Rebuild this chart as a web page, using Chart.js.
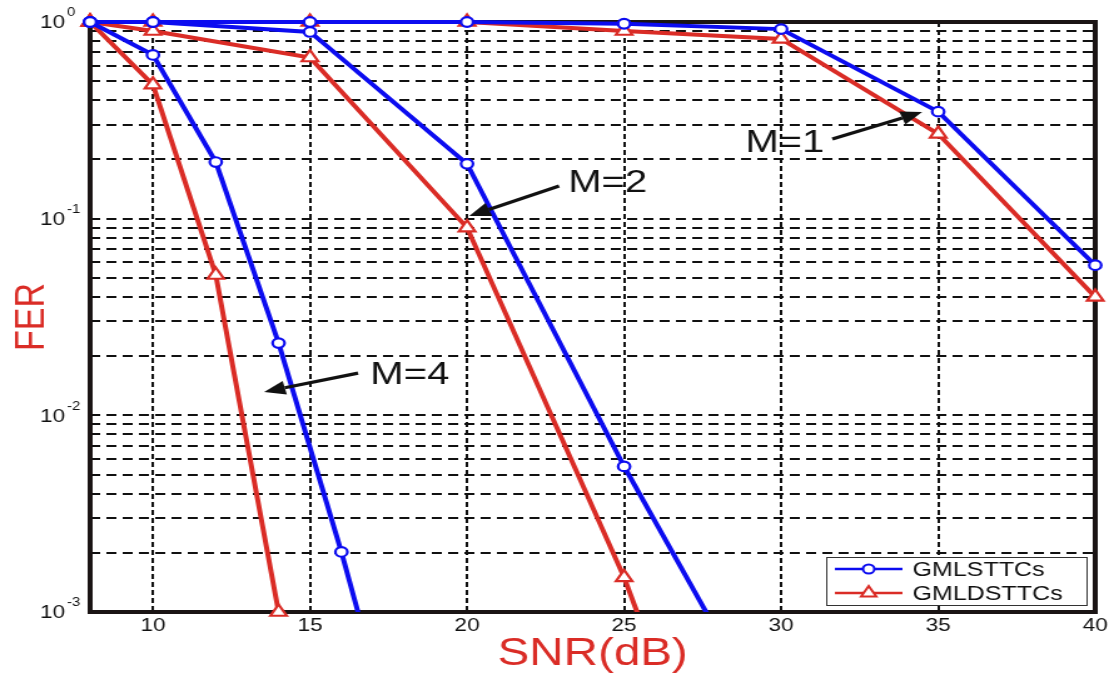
<!DOCTYPE html>
<html>
<head>
<meta charset="utf-8">
<script src="https://cdn.jsdelivr.net/npm/chart.js@4/dist/chart.umd.min.js"></script>
<style>
  html, body { margin: 0; padding: 0; background: #fff; overflow: hidden; }
  /* the figure is drawn narrow and widened, like the exported plot */
  #wrap { width: 890px; height: 679px; transform: scaleX(1.2517); transform-origin: 0 0; }
</style>
</head>
<body>
<div id="wrap"><canvas id="fer" width="890" height="679"></canvas></div>
<script>
// M = 4
const snrM4Ls = [8, 10, 12, 14, 16, 18]
const ferM4Ls = [1, 0.68, 0.194, 0.0233, 0.00202, 0.00014]
const snrM4Lds = [8, 10, 12, 14]
const ferM4Lds = [1, 0.48, 0.0517, 0.001]
// M = 2
const snrM2 = [8, 10, 15, 20, 25, 30]
const ferM2Ls = [1, 1, 0.89, 0.19, 0.0055, 0.00021]
const ferM2Lds = [1, 0.9, 0.66, 0.09, 0.0015, 0.000011]
// M = 1
const snrM1 = [8, 10, 15, 20, 25, 30, 35, 40]
const ferM1Ls = [1, 1, 1, 1, 0.98, 0.92, 0.35, 0.058]
const ferM1Lds = [1, 1, 1, 1, 0.9, 0.82, 0.27, 0.04]

const xTicks = [10, 15, 20, 25, 30, 35, 40]
const yDecades = [1, 0.1, 0.01, 0.001]
const yExp = ['0', '-1', '-2', '-3']
const seriesNames = ['GMLSTTCs', 'GMLDSTTCs']

// M=... callouts: text anchor, arrow tail, arrow tip (in SNR / FER units)
const noteText = ['M=1', 'M=2', 'M=4']
const noteAt = [[28.86, 0.245], [23.22, 0.1537], [16.92, 0.0162]]
const arrowFrom = [[31.63, 0.254], [22.93, 0.1466], [16.53, 0.0164]]
const arrowTo = [[34.49, 0.349], [20.07, 0.1032], [13.54, 0.01315]]

const BLUE = '#0c0cf0'
const RED = '#da2c26'
const FONT = "'Liberation Sans', Arial, sans-serif"

const pts = (xs, ys) => xs.map((x, i) => ({ x: x, y: ys[i] }))
const cut = { left: 10, top: 10, right: 10, bottom: 0 }

const blue = (data, clip) => ({
    label: seriesNames[0], data: data, clip: clip,
    borderColor: BLUE, borderWidth: 4, tension: 0,
    pointStyle: 'circle', pointRadius: 4.8, pointBorderWidth: 2.2,
    pointBackgroundColor: '#fff', pointBorderColor: BLUE
})
const red = (data, clip) => ({
    label: seriesNames[1], data: data, clip: clip,
    borderColor: RED, borderWidth: 4, tension: 0,
    pointStyle: 'triangle', pointRadius: 7.5, pointBorderWidth: 2.2,
    pointBackgroundColor: '#fff', pointBorderColor: RED
})

// thick box round the plot, under the curves
const frame = {
    id: 'frame',
    beforeDatasetsDraw(chart) {
        const { ctx, chartArea: a } = chart
        ctx.save()
        ctx.strokeStyle = '#1a1414'
        ctx.lineWidth = 4
        ctx.strokeRect(a.left, a.top, a.right - a.left, a.bottom - a.top)
        ctx.restore()
    }
}

const decor = {
    id: 'decor',
    afterDraw(chart) {
        const { ctx, chartArea: a } = chart
        const xs = chart.scales.x, ys = chart.scales.y
        ctx.save()

        // 10^n labels
        ctx.fillStyle = '#111'
        yDecades.forEach((v, i) => {
            const y = ys.getPixelForValue(v)
            ctx.font = '18px ' + FONT
            ctx.textAlign = 'right'
            ctx.textBaseline = 'middle'
            ctx.fillText('10', 52, y + 1.5)
            ctx.font = '12px ' + FONT
            ctx.textAlign = 'left'
            ctx.fillText(yExp[i], 53.5, y - 9)
        })

        // axis titles
        ctx.fillStyle = RED
        ctx.font = '38px ' + FONT
        ctx.textAlign = 'center'
        ctx.textBaseline = 'middle'
        ctx.fillText('SNR(dB)', (a.left + a.right) / 2, 655)
        ctx.save()
        ctx.translate(26, (a.top + a.bottom) / 2)
        ctx.rotate(-Math.PI / 2)
        ctx.font = '34px ' + FONT
        ctx.fillText('FER', 0, 0)
        ctx.restore()

        // callouts
        ctx.fillStyle = '#111'
        ctx.strokeStyle = '#111'
        ctx.font = '32px ' + FONT
        ctx.textAlign = 'left'
        noteText.forEach((t, i) => {
            ctx.fillText(t, xs.getPixelForValue(noteAt[i][0]), ys.getPixelForValue(noteAt[i][1]) + 1)
            const x0 = xs.getPixelForValue(arrowFrom[i][0]), y0 = ys.getPixelForValue(arrowFrom[i][1])
            const x1 = xs.getPixelForValue(arrowTo[i][0]), y1 = ys.getPixelForValue(arrowTo[i][1])
            const ang = Math.atan2(y1 - y0, x1 - x0)
            const len = 17, half = 7
            const bx = x1 - Math.cos(ang) * len, by = y1 - Math.sin(ang) * len
            ctx.lineWidth = 3.2
            ctx.beginPath()
            ctx.moveTo(x0, y0)
            ctx.lineTo(bx, by)
            ctx.stroke()
            ctx.beginPath()
            ctx.moveTo(x1, y1)
            ctx.lineTo(bx + Math.sin(ang) * half, by - Math.cos(ang) * half)
            ctx.lineTo(bx - Math.sin(ang) * half, by + Math.cos(ang) * half)
            ctx.closePath()
            ctx.fill()
        })

        // legend box, bottom right
        const lx = 660, ly = 557, lw = 208, lh = 48
        ctx.fillStyle = '#fff'
        ctx.fillRect(lx, ly, lw, lh)
        ctx.strokeStyle = '#333'
        ctx.lineWidth = 1
        ctx.strokeRect(lx + 0.5, ly + 0.5, lw, lh)
        const rows = [ly + 12, ly + 36]
        const cols = [BLUE, RED]
        rows.forEach((y, i) => {
            ctx.strokeStyle = cols[i]
            ctx.lineWidth = 2.5
            ctx.beginPath()
            ctx.moveTo(667, y)
            ctx.lineTo(721, y)
            ctx.stroke()
            ctx.fillStyle = '#fff'
            ctx.lineWidth = 2
            ctx.beginPath()
            if (i === 0) {
                ctx.arc(694, y, 4.5, 0, Math.PI * 2)
            } else {
                const r = 7
                ctx.moveTo(694, y - r)
                ctx.lineTo(694 + 0.866 * r, y + 0.5 * r)
                ctx.lineTo(694 - 0.866 * r, y + 0.5 * r)
                ctx.closePath()
            }
            ctx.fill()
            ctx.stroke()
            ctx.fillStyle = '#111'
            ctx.font = '20px ' + FONT
            ctx.textAlign = 'left'
            ctx.fillText(seriesNames[i], 729, y + 1)
        })
        ctx.restore()
    }
}

Chart.defaults.font.family = FONT

new Chart(document.getElementById('fer').getContext('2d'), {
    type: 'line',
    data: {
        datasets: [
            blue(pts(snrM1, ferM1Ls), 10),
            blue(pts(snrM2, ferM2Ls), cut),
            blue(pts(snrM4Ls, ferM4Ls), cut),
            red(pts(snrM1, ferM1Lds), 10),
            red(pts(snrM2, ferM2Lds), cut),
            red(pts(snrM4Lds, ferM4Lds), 10)
        ]
    },
    options: {
        responsive: false,
        animation: false,
        events: [],
        layout: { padding: { top: 22, right: 15, left: 0, bottom: 0 } },
        plugins: { legend: { display: false }, tooltip: { enabled: false } },
        scales: {
            x: {
                type: 'linear', min: 8, max: 40,
                afterBuildTicks: s => { s.ticks = xTicks.map(v => ({ value: v })) },
                afterFit: s => { s.height = 67 },
                grid: { color: '#111', lineWidth: 2, drawTicks: false },
                border: { display: false, dash: [5, 3] },
                ticks: { color: '#111', padding: 3, font: { size: 18 }, maxRotation: 0 }
            },
            y: {
                type: 'logarithmic', min: 0.001, max: 1,
                afterBuildTicks: s => {
                    const t = []
                    yDecades.slice().reverse().forEach(d => {
                        for (let m = 1; m <= 9; m++) if (d * m <= 1) t.push({ value: d * m })
                    })
                    s.ticks = t
                },
                afterFit: s => { s.width = 72 },
                grid: { color: '#111', lineWidth: 2, drawTicks: false },
                border: { display: false, dash: [8, 5] },
                ticks: { display: false }
            }
        }
    },
    plugins: [frame, decor]
})
</script>
</body>
</html>
